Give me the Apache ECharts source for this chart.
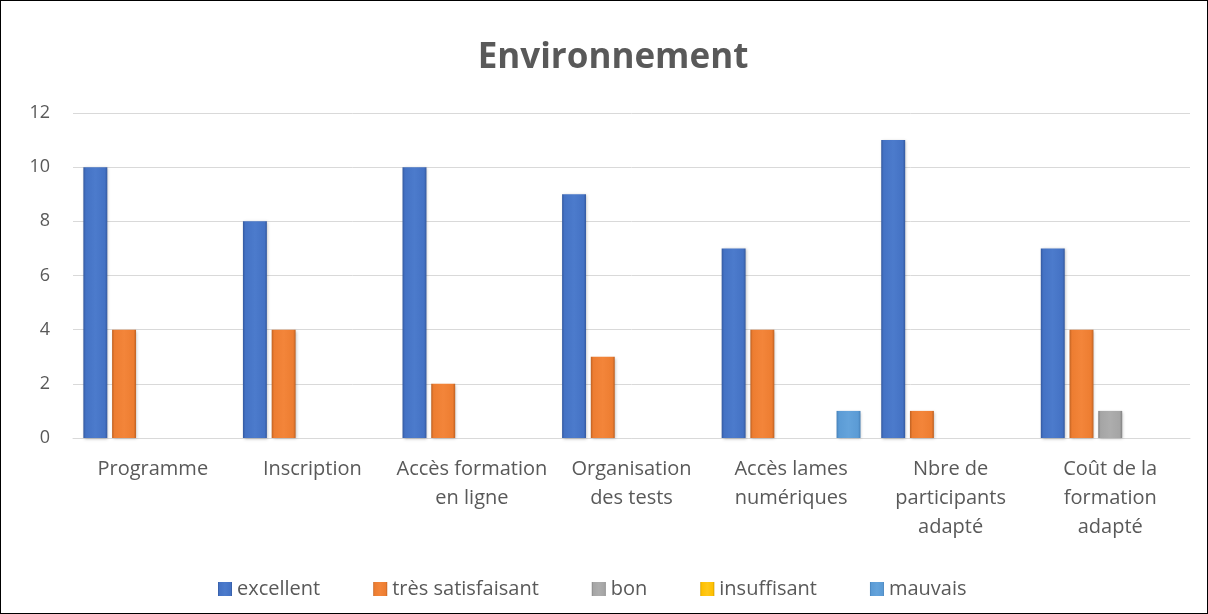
<!DOCTYPE html>
<html><head><meta charset="utf-8">
<script src="https://cdn.jsdelivr.net/npm/echarts@6/dist/echarts.min.js"></script>
<style>
html,body{margin:0;padding:0;background:#fff;}
#c{width:1208px;height:614px;box-sizing:border-box;border:1px solid #000;}
</style></head><body>
<div id="c"></div>
<script>
const categories = ["Programme","Inscription","Accès formation\nen ligne","Organisation\ndes tests","Accès lames\nnumériques","Nbre de\nparticipants\nadapté","Coût de la\nformation\nadapté"];
const seriesNames = ["excellent","très satisfaisant","bon","insuffisant","mauvais"];
const excellent = [10,8,10,9,7,11,7];
const tresSatisfaisant = [4,4,2,3,4,1,4];
const bon = [0,0,0,0,0,0,1];
const insuffisant = [0,0,0,0,0,0,0];
const mauvais = [0,0,0,0,1,0,0];
const yTicks = [0,2,4,6,8,10,12];

const baseColors = ["#4472C4","#ED7D31","#A5A5A5","#FFC000","#5B9BD5"];
const lightColors = ["#4C7BCC","#F3853A","#ADADAD","#FFC81A","#64A3DB"];
const darkColors = ["#34599F","#BE6122","#818181","#CC9A00","#4580B8"];
const allData = [excellent,tresSatisfaisant,bon,insuffisant,mauvais];

function grad(i){
  return new echarts.graphic.LinearGradient(0,0,1,0,[
    {offset:0,color:darkColors[i]},
    {offset:0.1,color:baseColors[i]},
    {offset:0.5,color:lightColors[i]},
    {offset:0.9,color:baseColors[i]},
    {offset:1,color:darkColors[i]}
  ]);
}

const chart = echarts.init(document.getElementById('c'));
const font = "'Open Sans', 'Noto Sans', sans-serif";
chart.setOption({
  animation:false,
  title:{text:"Environnement",left:607,textAlign:'center',top:35,textStyle:{fontFamily:font,fontSize:35,fontWeight:'bold',color:'#595959'}},
  legend:{top:573,left:212,itemWidth:14,itemHeight:14,itemGap:53,icon:'rect',
    textStyle:{fontFamily:font,fontSize:20,color:'#595959'},data:seriesNames},
  grid:{left:72,right:17,top:112,bottom:175,containLabel:false},
  xAxis:{type:'category',data:categories,
    axisLine:{lineStyle:{color:'#D9D9D9'}},axisTick:{show:false},
    axisLabel:{fontFamily:font,fontSize:20,color:'#595959',lineHeight:29,margin:17,interval:0}},
  yAxis:{type:'value',min:yTicks[0],max:yTicks[yTicks.length-1],interval:2,
    axisLine:{show:false},axisTick:{show:false},
    splitLine:{lineStyle:{color:'#D9D9D9'}},
    axisLabel:{fontFamily:font,fontSize:18,color:'#595959',margin:23}},
  series: seriesNames.map((n,i)=>({
    name:n,type:'bar',data:allData[i].map(v=>v===0?null:v),
    barGap:'20%',barCategoryGap:'13%',
    itemStyle:{color:grad(i),shadowColor:'rgba(0,0,0,0.25)',shadowBlur:3,shadowOffsetX:1,shadowOffsetY:1}
  })),
  color:baseColors
});
</script>
</body></html>
